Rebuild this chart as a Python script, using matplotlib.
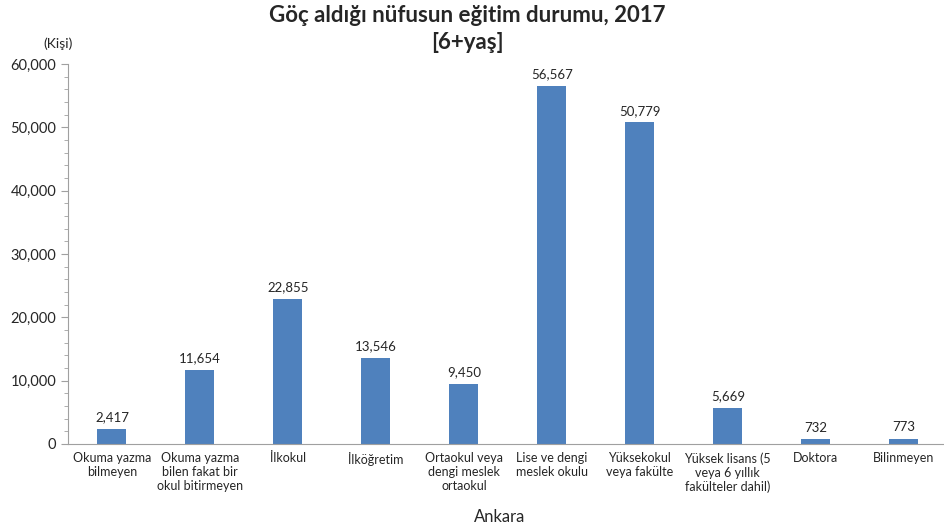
import matplotlib
matplotlib.use("Agg")
from matplotlib import pyplot as plt
from matplotlib.ticker import MultipleLocator, FuncFormatter

categories = [
    "Okuma yazma\nbilmeyen",
    "Okuma yazma\nbilen fakat bir\nokul bitirmeyen",
    "İlkokul",
    "İlköğretim",
    "Ortaokul veya\ndengi meslek\nortaokul",
    "Lise ve dengi\nmeslek okulu",
    "Yüksekokul\nveya fakülte",
    "Yüksek lisans (5\nveya 6 yıllık\nfakülteler dahil)",
    "Doktora",
    "Bilinmeyen",
]
values = [2417, 11654, 22855, 13546, 9450, 56567, 50779, 5669, 732, 773]

plt.rcParams["font.family"] = ["Lato", "DejaVu Sans"]

fig = plt.figure(figsize=(9.44, 5.31), dpi=100)
ax = fig.add_axes([0.072, 0.164, 0.932, 0.7155])

x = range(len(values))
bars = ax.bar(x, values, width=0.33, color="#4F81BD")
for b, v in zip(bars, values):
    ax.text(b.get_x() + b.get_width() / 2, v + 900, f"{v:,}",
            ha="center", va="bottom", fontsize=9.5, color="#262626")

ax.set_xlim(-0.5, len(values) - 0.5)
ax.set_ylim(0, 60000)
ax.yaxis.set_major_locator(MultipleLocator(10000))
ax.yaxis.set_minor_locator(MultipleLocator(2000))
ax.yaxis.set_major_formatter(FuncFormatter(lambda v, p: f"{int(v):,}"))
ax.tick_params(axis="y", which="major", length=5, color="#A0A0A0", labelsize=10.5, labelcolor="#262626")
ax.tick_params(axis="y", which="minor", length=3, color="#A0A0A0")
ax.tick_params(axis="x", length=0, labelsize=9, labelcolor="#262626", pad=6)
ax.set_xticks(list(x))
ax.set_xticklabels(categories)

for s in ["top", "right"]:
    ax.spines[s].set_visible(False)
for s in ["left", "bottom"]:
    ax.spines[s].set_color("#A0A0A0")

# x-axis title placed by hand (axis extends past the right edge)
fig.text(500 / 944, 1 - 517 / 531, "Ankara", ha="center", va="center",
         fontsize=12, color="#262626")
fig.text(0.495, 0.97, "Göç aldığı nüfusun eğitim durumu, 2017", ha="center", va="center",
         fontsize=16, fontweight="bold", color="#262626")
fig.text(0.495, 0.92, "[6+yaş]", ha="center", va="center",
         fontsize=16, fontweight="bold", color="#262626")
fig.text(0.062, 0.918, "(Kişi)", ha="center", va="center", fontsize=10, color="#262626")

fig.savefig("out.png", dpi=100)
